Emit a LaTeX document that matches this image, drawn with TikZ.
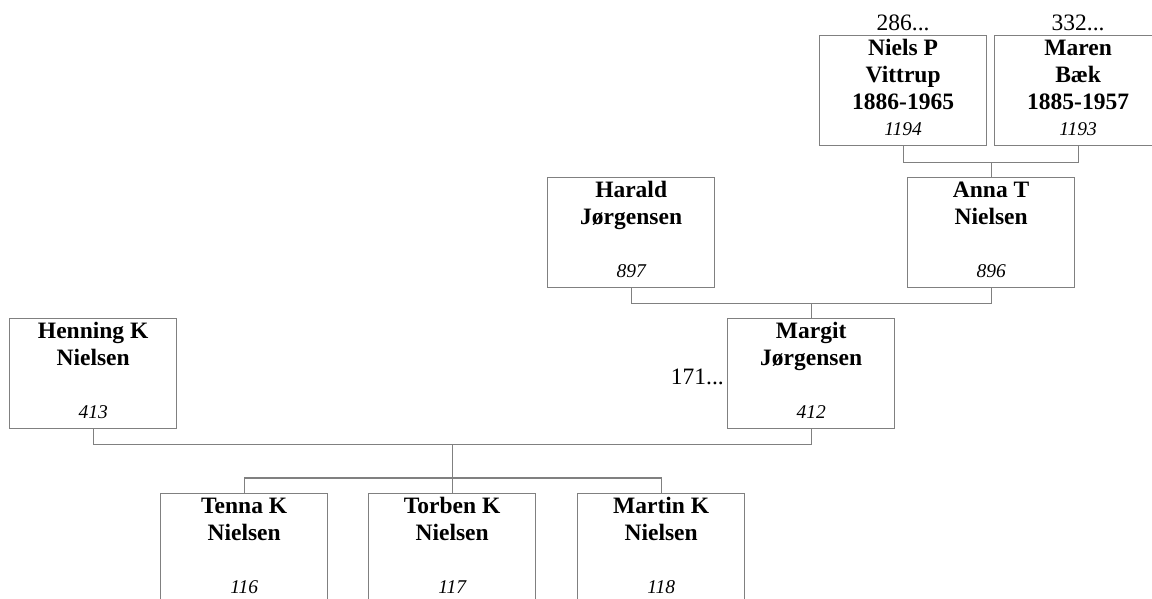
\documentclass[tikz,border=0pt]{standalone}
\usepackage{fontspec}
\setmainfont{Liberation Serif}
\definecolor{ln}{RGB}{128,128,128}
\begin{document}
\begin{tikzpicture}[x=1pt,y=-1pt,
  pbox/.style={draw=ln,line width=1.3pt,minimum width=167pt,minimum height=110pt,inner sep=0pt,anchor=north west},
  nm/.style={font=\fontsize{23.5}{27}\selectfont\bfseries,align=center,anchor=base,inner sep=0pt},
  num/.style={font=\fontsize{19.5}{22}\selectfont\itshape,anchor=base,inner sep=0pt},
  ref/.style={font=\fontsize{23.5}{27}\selectfont,inner sep=0pt},
  conn/.style={draw=ln,line width=1.3pt}]
\useasboundingbox (0,0) rectangle (1152,598);
% boxes
\node[pbox] (niels) at (819,35) {};
\node[pbox] (maren) at (994,35) {};
\node[pbox] (harald) at (547,177) {};
\node[pbox] (anna) at (907,177) {};
\node[pbox] (henning) at (9,318) {};
\node[pbox] (margit) at (727,318) {};
\node[pbox] (tenna) at (160,493) {};
\node[pbox] (torben) at (368,493) {};
\node[pbox] (martin) at (577,493) {};
% names (anchor = baseline of last line)
\node[nm] (nielsN) at ([yshift=-74pt]niels.north) {Niels P\\Vittrup\\1886-1965};
\node[nm] (marenN) at ([yshift=-74pt]maren.north) {Maren\\Bæk\\1885-1957};
\node[nm] (haraldN) at ([yshift=-47pt]harald.north) {Harald\\Jørgensen};
\node[nm] (annaN) at ([yshift=-47pt]anna.north) {Anna T\\Nielsen};
\node[nm] (henningN) at ([yshift=-47pt]henning.north) {Henning K\\Nielsen};
\node[nm] (margitN) at ([yshift=-47pt]margit.north) {Margit\\Jørgensen};
\node[nm] (tennaN) at ([yshift=-47pt]tenna.north) {Tenna K\\Nielsen};
\node[nm] (torbenN) at ([yshift=-47pt]torben.north) {Torben K\\Nielsen};
\node[nm] (martinN) at ([yshift=-47pt]martin.north) {Martin K\\Nielsen};
% numbers
\node[num] (nielsI) at ([yshift=11pt]niels.south) {1194};
\node[num] (marenI) at ([yshift=11pt]maren.south) {1193};
\node[num] (haraldI) at ([yshift=11pt]harald.south) {897};
\node[num] (annaI) at ([yshift=11pt]anna.south) {896};
\node[num] (henningI) at ([yshift=11pt]henning.south) {413};
\node[num] (margitI) at ([yshift=11pt]margit.south) {412};
\node[num] (tennaI) at ([yshift=11pt]tenna.south) {116};
\node[num] (torbenI) at ([yshift=11pt]torben.south) {117};
\node[num] (martinI) at ([yshift=11pt]martin.south) {118};
% references
\node[ref,anchor=base] (r286) at ([yshift=5pt]niels.north) {286...};
\node[ref,anchor=base] (r332) at ([yshift=5pt]maren.north) {332...};
\node[ref,anchor=base east] (r171) at ([xshift=-3pt,yshift=-10.5pt]margit.west) {171...};
% connectors
\draw[conn] (niels.south) -- ++(0,16) coordinate (nb) -| (maren.south);
\draw[conn] (anna.north) -- (anna.north |- nb);
\draw[conn] (harald.south) -- ++(0,15.5) coordinate (hb) -| (anna.south);
\draw[conn] (margit.north) -- (margit.north |- hb);
\draw[conn] (henning.south) -- ++(0,15.5) coordinate (mb) -| (margit.south);
\draw[conn] (tenna.north) -- ++(0,-15) coordinate (kb) -| (martin.north);
\draw[conn] (torben.north) -- (torben.north |- mb);
\end{tikzpicture}
\end{document}
